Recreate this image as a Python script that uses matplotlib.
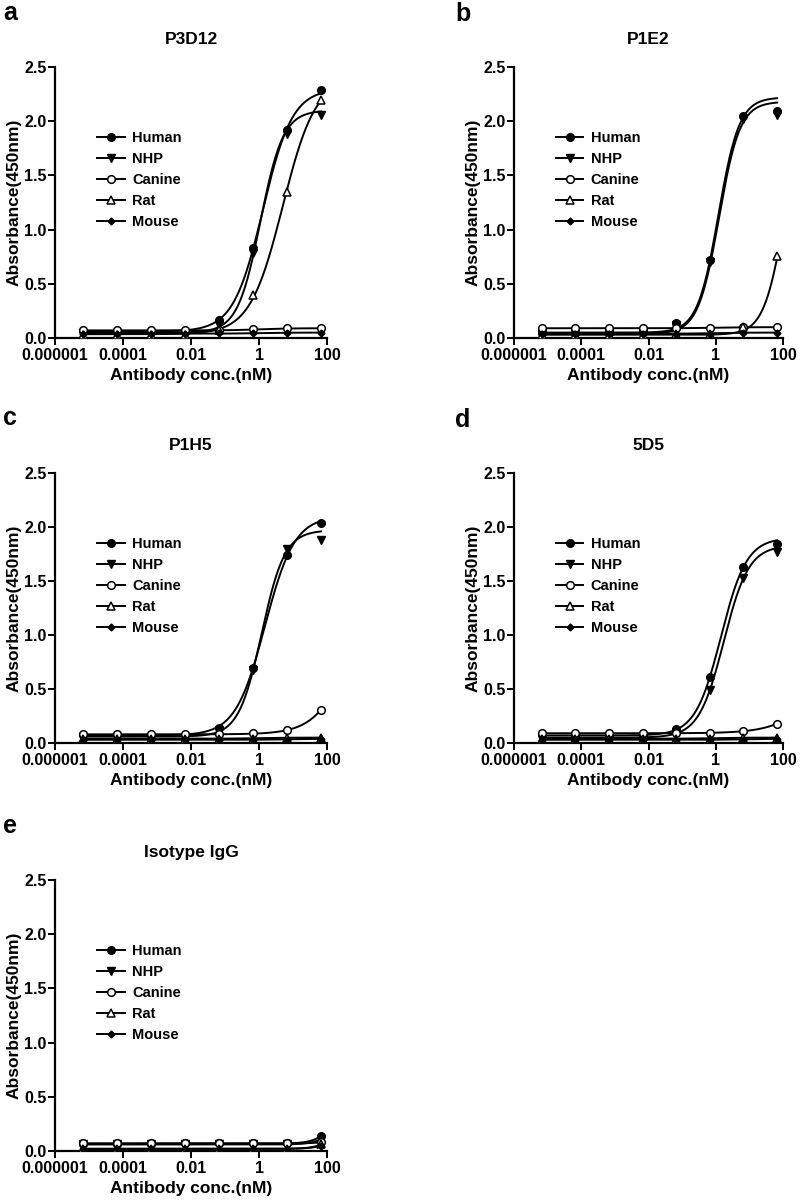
import numpy as np
import matplotlib
matplotlib.use('Agg')
import matplotlib.pyplot as plt
from matplotlib.ticker import FixedLocator, FixedFormatter, NullLocator

plt.rcParams['font.family'] = ['Liberation Sans', 'DejaVu Sans']
plt.rcParams['font.weight'] = 'bold'
plt.rcParams['axes.labelweight'] = 'bold'
plt.rcParams['axes.titleweight'] = 'bold'

# ---------------- data ----------------
conc_nM = [6.67e-6, 6.67e-5, 6.67e-4, 6.67e-3, 6.67e-2, 0.667, 6.67, 66.7]
species = ['Human', 'NHP', 'Canine', 'Rat', 'Mouse']
panel_letters = ['a', 'b', 'c', 'd', 'e']
panel_titles = ['P3D12', 'P1E2', 'P1H5', '5D5', 'Isotype IgG']
x_tick_values = [1e-6, 1e-4, 1e-2, 1, 100]
x_tick_labels = ['0.000001', '0.0001', '0.01', '1', '100']
y_tick_values = [0.0, 0.5, 1.0, 1.5, 2.0, 2.5]

p3d12 = {
    'Human':  [0.06, 0.06, 0.06, 0.06, 0.17, 0.83, 1.92, 2.29],
    'NHP':    [0.05, 0.05, 0.05, 0.05, 0.12, 0.78, 1.88, 2.06],
    'Canine': [0.07, 0.07, 0.07, 0.07, 0.07, 0.08, 0.09, 0.09],
    'Rat':    [0.03, 0.03, 0.03, 0.03, 0.07, 0.40, 1.35, 2.20],
    'Mouse':  [0.04, 0.04, 0.04, 0.04, 0.05, 0.05, 0.05, 0.05],
}
p1e2 = {
    'Human':  [0.05, 0.05, 0.05, 0.06, 0.14, 0.72, 2.05, 2.09],
    'NHP':    [0.04, 0.04, 0.04, 0.05, 0.12, 0.70, 2.02, 2.06],
    'Canine': [0.09, 0.09, 0.09, 0.09, 0.09, 0.09, 0.10, 0.10],
    'Rat':    [0.03, 0.03, 0.03, 0.03, 0.04, 0.04, 0.10, 0.76],
    'Mouse':  [0.04, 0.04, 0.04, 0.04, 0.04, 0.04, 0.05, 0.05],
}
p1h5 = {
    'Human':  [0.07, 0.07, 0.07, 0.07, 0.14, 0.69, 1.74, 2.04],
    'NHP':    [0.06, 0.06, 0.06, 0.06, 0.12, 0.68, 1.80, 1.88],
    'Canine': [0.08, 0.08, 0.08, 0.08, 0.08, 0.09, 0.12, 0.31],
    'Rat':    [0.04, 0.04, 0.04, 0.04, 0.04, 0.04, 0.05, 0.05],
    'Mouse':  [0.03, 0.03, 0.03, 0.03, 0.03, 0.03, 0.03, 0.04],
}
d5d5 = {
    'Human':  [0.07, 0.07, 0.07, 0.07, 0.13, 0.61, 1.63, 1.84],
    'NHP':    [0.05, 0.05, 0.05, 0.05, 0.10, 0.49, 1.53, 1.77],
    'Canine': [0.09, 0.09, 0.09, 0.09, 0.09, 0.09, 0.11, 0.18],
    'Rat':    [0.04, 0.04, 0.04, 0.04, 0.04, 0.04, 0.05, 0.05],
    'Mouse':  [0.03, 0.03, 0.03, 0.03, 0.03, 0.03, 0.03, 0.04],
}
isotype = {
    'Human':  [0.065, 0.065, 0.065, 0.07, 0.07, 0.07, 0.075, 0.14],
    'NHP':    [0.06, 0.06, 0.06, 0.06, 0.06, 0.06, 0.06, 0.11],
    'Canine': [0.07, 0.07, 0.07, 0.07, 0.07, 0.07, 0.07, 0.08],
    'Rat':    [0.02, 0.02, 0.02, 0.02, 0.02, 0.02, 0.02, 0.06],
    'Mouse':  [0.02, 0.02, 0.02, 0.02, 0.02, 0.02, 0.02, 0.05],
}

# fitted 4-parameter logistic curves: (bottom, top, EC50 nM, Hill)
p3d12_fit = {'Human': (0.06, 2.30, 1.3, 1.0), 'NHP': (0.05, 2.10, 1.1, 1.3),
             'Canine': (0.07, 0.09, 1.0, 1.0), 'Rat': (0.035, 2.40, 5.0, 0.9),
             'Mouse': (0.04, 0.05, 1.0, 1.0)}
p1e2_fit = {'Human': (0.05, 2.22, 1.2, 1.4), 'NHP': (0.04, 2.18, 1.25, 1.4),
            'Canine': (0.09, 0.10, 1.0, 1.0), 'Rat': (0.03, 2.20, 112.0, 1.4),
            'Mouse': (0.04, 0.05, 1.0, 1.0)}
p1h5_fit = {'Human': (0.07, 2.10, 1.5, 1.0), 'NHP': (0.06, 1.97, 1.2, 1.28),
            'Canine': (0.08, 2.00, 785.0, 0.81), 'Rat': (0.04, 0.05, 1.0, 1.0),
            'Mouse': (0.03, 0.04, 10.0, 1.0)}
d5d5_fit = {'Human': (0.07, 1.90, 1.43, 1.14), 'NHP': (0.05, 1.83, 1.73, 1.17),
            'Canine': (0.09, 1.90, 5100.0, 0.68), 'Rat': (0.04, 0.05, 1.0, 1.0),
            'Mouse': (0.03, 0.04, 10.0, 1.0)}
isotype_fit = {'Human': (0.068, 2.0, 580.0, 1.5), 'NHP': (0.06, 2.0, 750.0, 1.5),
               'Canine': (0.07, 2.0, 2200.0, 1.5), 'Rat': (0.02, 2.0, 900.0, 1.5),
               'Mouse': (0.02, 2.0, 1090.0, 1.5)}

panel_data = [p3d12, p1e2, p1h5, d5d5, isotype]
panel_fits = [p3d12_fit, p1e2_fit, p1h5_fit, d5d5_fit, isotype_fit]

# ---------------- styles ----------------
marker_style = {
    'Human':  dict(marker='o', ms=5.5, mfc='black', mec='black'),
    'NHP':    dict(marker='v', ms=6, mfc='black', mec='black'),
    'Canine': dict(marker='o', ms=5.5, mfc='white', mec='black', mew=1.1),
    'Rat':    dict(marker='^', ms=6, mfc='white', mec='black', mew=1.1),
    'Mouse':  dict(marker='D', ms=3.5, mfc='black', mec='black'),
}

W, H = 800, 1200
fig = plt.figure(figsize=(8, 12), dpi=100)

# axes boxes in pixels: (left, top, right, bottom)
boxes = [(55, 67, 327, 338), (514, 67, 783, 338),
         (55, 473, 327, 743), (514, 473, 783, 743),
         (55, 880, 327, 1151)]
letter_pos = [(3, 20), (455, 21), (3, 425), (455, 427), (3, 833)]

def four_pl(x, p):
    b, t, e, h = p
    return b + (t - b) / (1.0 + (e / x) ** h)

for i, (data, fits) in enumerate(zip(panel_data, panel_fits)):
    l, t, r, b = boxes[i]
    ax = fig.add_axes([l / W, 1 - b / H, (r - l) / W, (b - t) / H])
    xs = np.logspace(np.log10(conc_nM[0]), np.log10(conc_nM[-1]), 400)
    handles = []
    for sp in species:
        ax.plot(xs, four_pl(xs, fits[sp]), color='black', lw=1.4, zorder=2)
        ax.plot(conc_nM, data[sp], ls='none', zorder=3, **marker_style[sp])
        h, = ax.plot([], [], color='black', lw=1.4, **marker_style[sp])
        handles.append(h)
    ax.set_xscale('log')
    ax.set_xlim(1e-6, 100)
    ax.set_ylim(0, 2.5)
    ax.xaxis.set_major_locator(FixedLocator(x_tick_values))
    ax.xaxis.set_major_formatter(FixedFormatter(x_tick_labels))
    ax.xaxis.set_minor_locator(NullLocator())
    ax.set_yticks(y_tick_values)
    ax.set_yticklabels(['%.1f' % v for v in y_tick_values])
    for s in ['top', 'right']:
        ax.spines[s].set_visible(False)
    for s in ['left', 'bottom']:
        ax.spines[s].set_linewidth(1.6)
    ax.tick_params(axis='both', direction='out', length=5, width=1.4,
                   labelsize=11.5)
    ax.tick_params(axis='y', pad=1)
    ax.tick_params(axis='x', pad=2.5)
    for lab in ax.get_xticklabels() + ax.get_yticklabels():
        lab.set_fontweight('bold')
    ax.set_xlabel('Antibody conc.(nM)', fontsize=12.5, fontweight='bold', labelpad=3)
    ax.set_ylabel('Absorbance(450nm)', fontsize=12.5, fontweight='bold', labelpad=2)
    ax.text(0.5, 1 + (t - 40 - 67 + 67) / (b - t) * 0 + 27.0 / (b - t),
            panel_titles[i], transform=ax.transAxes, ha='center', va='center',
            fontsize=12.5, fontweight='bold')
    ax.legend(handles, species, loc='upper left',
              bbox_to_anchor=(0.155, 0.762), frameon=False,
              prop={'size': 10.5, 'weight': 'bold'},
              handlelength=1.9, handletextpad=0.5, labelspacing=0.47,
              borderpad=0, borderaxespad=0)
    lx, ly = letter_pos[i]
    fig.text(lx / W, 1 - ly / H, panel_letters[i], fontsize=18,
             fontweight='bold', ha='left', va='baseline')

fig.savefig('out.png', dpi=100)
